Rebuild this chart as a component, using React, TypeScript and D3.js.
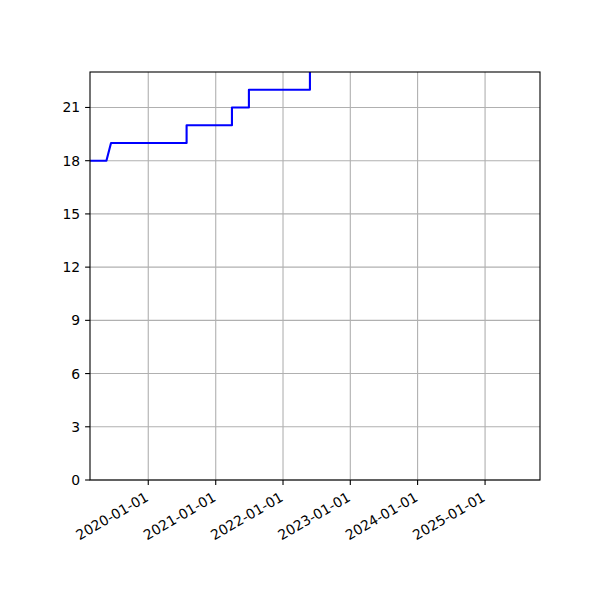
import React from "react";
import * as d3 from "d3";

const dates = [
  "2019-01-01",
  "2019-05-19",
  "2019-06-13",
  "2020-07-27",
  "2020-07-27",
  "2021-03-30",
  "2021-03-30",
  "2021-06-30",
  "2021-06-30",
  "2022-05-27",
  "2022-05-27",
];
const values = [18, 18, 19, 19, 20, 20, 21, 21, 22, 22, 26];
const yTicks = [0, 3, 6, 9, 12, 15, 18, 21];
const xTickLabels = ["2020-01-01", "2021-01-01", "2022-01-01", "2023-01-01", "2024-01-01", "2025-01-01"];
const xDomain = ["2019-02-19", "2025-10-26"];
const yDomain = [0, 23];

const W = 600;
const H = 600;
const left = 90;
const right = 540;
const top = 72;
const bottom = 480;
const FONT = "'DejaVu Sans', sans-serif";
const FS = 13.9;

export default function App() {
  const parse = d3.utcParse("%Y-%m-%d");
  const x = d3.scaleUtc().domain(xDomain.map((d) => parse(d) as Date)).range([left, right]);
  const y = d3.scaleLinear().domain(yDomain).range([bottom, top]);
  const pts = dates.map((d, i) => [x(parse(d) as Date), y(values[i])] as [number, number]);
  const line = d3.line()(pts) || "";
  const xt = xTickLabels.map((s) => ({ s, px: x(parse(s) as Date) }));

  return (
    <svg width={W} height={H} style={{ position: "absolute", left: 0, top: 0, background: "#fff" }}>
      <defs>
        <clipPath id="plotclip">
          <rect x={left} y={top} width={right - left} height={bottom - top} />
        </clipPath>
      </defs>
      <rect x={0} y={0} width={W} height={H} fill="#fff" />
      {/* grid */}
      {xt.map((t) => (
        <line key={"gx" + t.s} x1={t.px} x2={t.px} y1={top} y2={bottom} stroke="#b0b0b0" strokeWidth={1.1} />
      ))}
      {yTicks.map((v) => (
        <line key={"gy" + v} x1={left} x2={right} y1={y(v)} y2={y(v)} stroke="#b0b0b0" strokeWidth={1.1} />
      ))}
      {/* data */}
      <path d={line} fill="none" stroke="#0000ff" strokeWidth={2.1} clipPath="url(#plotclip)" strokeLinejoin="round" />
      {/* spines */}
      <rect x={left} y={top} width={right - left} height={bottom - top} fill="none" stroke="#000" strokeWidth={1.1} />
      {/* y ticks */}
      {yTicks.map((v) => (
        <g key={"yt" + v}>
          <line x1={left - 4.9} x2={left} y1={y(v)} y2={y(v)} stroke="#000" strokeWidth={1.1} />
          <text x={left - 9.8} y={y(v)} textAnchor="end" dominantBaseline="central" fontFamily={FONT} fontSize={FS} fill="#000">
            {v}
          </text>
        </g>
      ))}
      {/* x ticks */}
      {xt.map((t) => (
        <g key={"xt" + t.s}>
          <line x1={t.px} x2={t.px} y1={bottom} y2={bottom + 4.9} stroke="#000" strokeWidth={1.1} />
          <text
            transform={`translate(${t.px - 4},${bottom + 11}) rotate(-30)`}
            textAnchor="end"
            dominantBaseline="hanging"
            fontFamily={FONT}
            fontSize={FS}
            fill="#000"
          >
            {t.s}
          </text>
        </g>
      ))}
    </svg>
  );
}
